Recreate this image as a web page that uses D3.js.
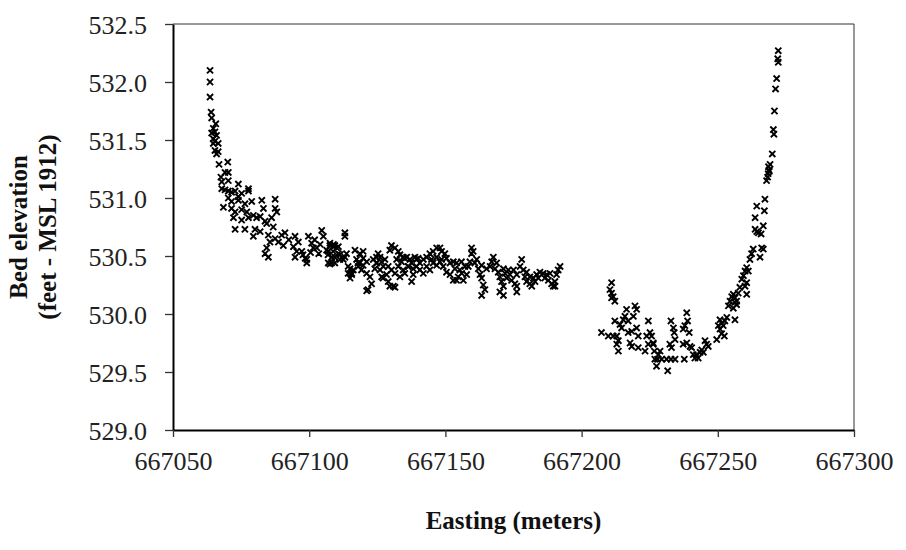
<!DOCTYPE html>
<html>
<head>
<meta charset="utf-8">
<script src="https://cdn.jsdelivr.net/npm/d3@7"></script>
<style>
  body { margin: 0; background: #fff; }
  .tick text { font-family: "Liberation Serif", serif; font-size: 26px; fill: #222; }
  .title { font-family: "Liberation Serif", serif; font-weight: bold; font-size: 25px; fill: #111; }
</style>
</head>
<body>
<div id="chart"></div>
<script>
// survey points [easting (m), bed elevation (ft)]
var westSlope = [
  [667063.6, 532.10], [667063.6, 532.00], [667063.6, 531.87], [667064.0, 531.74], [667064.2, 531.69],
  [667065.7, 531.64], [667064.8, 531.60], [667065.4, 531.57], [667064.2, 531.56], [667066.0, 531.54],
  [667064.8, 531.51], [667065.4, 531.49], [667066.6, 531.47], [667064.8, 531.47], [667065.4, 531.41],
  [667066.6, 531.40], [667066.0, 531.38], [667066.9, 531.29], [667070.1, 531.31], [667069.1, 531.22],
  [667070.3, 531.22], [667067.6, 531.18], [667070.3, 531.15], [667067.9, 531.14], [667067.9, 531.08],
  [667069.1, 531.07], [667070.3, 531.06], [667071.5, 531.05], [667074.0, 531.12], [667077.7, 531.08],
  [667077.7, 531.06], [667072.8, 531.06], [667075.2, 531.04], [667074.0, 531.01], [667070.3, 531.00],
  [667071.5, 530.97], [667074.0, 530.98], [667076.4, 530.95], [667078.9, 530.97], [667082.6, 530.98],
  [667087.5, 530.99], [667068.5, 530.92], [667071.5, 530.91], [667072.8, 530.88], [667075.2, 530.90],
  [667077.1, 530.88], [667079.5, 530.85], [667082.0, 530.84], [667083.2, 530.91], [667087.5, 530.91],
  [667088.1, 530.88], [667086.2, 530.83], [667086.8, 530.75], [667072.2, 530.83], [667075.2, 530.81],
  [667077.7, 530.83], [667080.7, 530.83], [667083.8, 530.80], [667084.4, 530.78], [667072.8, 530.73],
  [667076.4, 530.73], [667080.1, 530.73], [667079.5, 530.67], [667082.0, 530.71], [667085.0, 530.68],
  [667087.5, 530.65], [667085.6, 530.62], [667084.4, 530.57], [667083.8, 530.52], [667085.0, 530.49],
  [667089.9, 530.68], [667091.1, 530.70], [667088.7, 530.62], [667090.5, 530.59], [667094.8, 530.67],
  [667096.0, 530.62], [667094.2, 530.58], [667095.4, 530.54], [667094.8, 530.49], [667097.3, 530.54],
  [667099.7, 530.67], [667100.9, 530.61], [667098.5, 530.48], [667099.1, 530.44], [667101.5, 530.57],
  [667104.6, 530.72], [667105.2, 530.67], [667104.0, 530.60], [667107.0, 530.54], [667108.3, 530.49],
  [667107.0, 530.44], [667108.9, 530.60], [667097.7, 530.51], [667099.1, 530.47], [667102.8, 530.57],
  [667106.4, 530.55], [667106.9, 530.51], [667107.6, 530.43], [667092.5, 530.64], [667102.0, 530.64],
  [667103.5, 530.52], [667100.5, 530.53]
];

var channelBed = [
  [667109.4, 530.59], [667110.1, 530.57], [667108.8, 530.54], [667111.3, 530.51], [667109.4, 530.49],
  [667108.2, 530.44], [667109.4, 530.44], [667111.3, 530.47], [667113.1, 530.49], [667113.7, 530.52],
  [667113.1, 530.70], [667113.1, 530.67], [667116.8, 530.55], [667118.6, 530.52], [667119.8, 530.54],
  [667117.4, 530.47], [667118.6, 530.44], [667119.8, 530.42], [667121.1, 530.45], [667115.0, 530.39],
  [667114.3, 530.35], [667115.0, 530.31], [667121.1, 530.35], [667122.3, 530.32], [667122.9, 530.26],
  [667121.1, 530.20], [667125.3, 530.52], [667126.0, 530.49], [667124.7, 530.44], [667124.1, 530.39],
  [667126.0, 530.38], [667127.2, 530.41], [667126.6, 530.32], [667128.4, 530.34], [667129.0, 530.28],
  [667130.9, 530.24], [667129.6, 530.24], [667130.2, 530.59], [667131.5, 530.57], [667132.7, 530.54],
  [667133.3, 530.51], [667134.5, 530.49], [667132.1, 530.47], [667133.9, 530.45], [667132.7, 530.41],
  [667134.5, 530.38], [667135.1, 530.35], [667136.4, 530.41], [667138.2, 530.34], [667137.6, 530.28],
  [667133.3, 530.32], [667138.8, 530.49], [667139.4, 530.47], [667140.6, 530.44], [667140.6, 530.38],
  [667141.9, 530.35], [667139.4, 530.41], [667143.1, 530.41], [667144.3, 530.52], [667145.5, 530.54],
  [667144.9, 530.47], [667144.3, 530.38], [667146.8, 530.57], [667148.0, 530.57], [667148.6, 530.54],
  [667149.8, 530.52], [667150.4, 530.48], [667146.8, 530.49], [667148.0, 530.45], [667149.2, 530.41],
  [667150.4, 530.36], [667151.7, 530.34], [667152.9, 530.29], [667154.1, 530.29], [667154.1, 530.44],
  [667155.9, 530.45], [667157.2, 530.41], [667157.8, 530.34], [667156.6, 530.29], [667159.6, 530.57],
  [667160.2, 530.54], [667159.6, 530.52], [667159.0, 530.45], [667160.8, 530.44], [667162.1, 530.39],
  [667162.7, 530.34], [667163.3, 530.31], [667163.9, 530.25], [667164.5, 530.21], [667163.3, 530.16],
  [667167.6, 530.49], [667168.8, 530.44], [667166.4, 530.41], [667169.4, 530.36], [667170.0, 530.32],
  [667170.6, 530.28], [667171.3, 530.24], [667171.3, 530.16], [667170.0, 530.19], [667171.9, 530.35],
  [667173.1, 530.38], [667173.7, 530.34], [667174.3, 530.29], [667175.5, 530.26], [667176.2, 530.24],
  [667176.2, 530.19], [667177.4, 530.41], [667178.0, 530.47], [667178.6, 530.38], [667179.2, 530.32],
  [667179.8, 530.28], [667181.0, 530.26], [667181.7, 530.24], [667182.3, 530.31], [667183.5, 530.34],
  [667184.7, 530.36], [667185.9, 530.35], [667186.5, 530.31], [667187.8, 530.29], [667189.0, 530.26],
  [667189.6, 530.24], [667190.2, 530.28], [667191.4, 530.38], [667192.1, 530.41], [667190.8, 530.34],
  [667107.6, 530.61], [667110.7, 530.58], [667115.6, 530.35], [667117.9, 530.44], [667121.6, 530.21],
  [667124.8, 530.44], [667127.1, 530.31], [667131.5, 530.23], [667135.8, 530.49], [667136.3, 530.41],
  [667107.6, 530.59], [667108.8, 530.58], [667110.7, 530.52], [667112.5, 530.47], [667114.3, 530.41],
  [667116.2, 530.38], [667118.0, 530.41], [667119.2, 530.38], [667115.6, 530.34], [667119.8, 530.48],
  [667123.5, 530.47], [667124.7, 530.49], [667126.6, 530.45], [667127.8, 530.47], [667129.0, 530.41],
  [667130.2, 530.38], [667131.5, 530.35], [667129.6, 530.55], [667135.1, 530.48], [667137.0, 530.47],
  [667137.6, 530.44], [667138.2, 530.39], [667140.0, 530.48], [667141.9, 530.47], [667143.1, 530.49],
  [667145.5, 530.44], [667146.8, 530.42], [667148.6, 530.47], [667151.7, 530.44], [667152.9, 530.45],
  [667153.5, 530.39], [667155.3, 530.38], [667154.7, 530.32], [667156.0, 530.35], [667158.4, 530.41],
  [667161.5, 530.47], [667163.3, 530.42], [667165.1, 530.39], [667167.0, 530.45], [667168.2, 530.39],
  [667171.3, 530.39], [667172.5, 530.31], [667175.0, 530.38], [667176.2, 530.34], [667179.8, 530.36],
  [667181.0, 530.32], [667182.9, 530.28], [667184.1, 530.31], [667187.2, 530.34], [667188.4, 530.35],
  [667190.2, 530.24]
];

var eastSlope = [
  [667272.2, 532.27], [667272.0, 532.20], [667272.2, 532.17], [667271.6, 532.03], [667271.2, 531.94],
  [667270.8, 531.75], [667270.4, 531.59], [667270.6, 531.55], [667270.0, 531.38], [667269.2, 531.29],
  [667268.8, 531.24], [667268.5, 531.21], [667268.3, 531.18], [667267.9, 531.15], [667268.6, 531.27],
  [667268.9, 531.23], [667267.3, 530.99], [667264.3, 530.93], [667267.1, 530.89], [667263.7, 530.83],
  [667266.7, 530.76], [667263.7, 530.73], [667264.9, 530.70], [667265.9, 530.69], [667264.3, 530.71],
  [667266.1, 530.57], [667266.7, 530.56], [667263.0, 530.56], [667265.5, 530.49], [667262.4, 530.52],
  [667261.8, 530.47], [667260.6, 530.40], [667260.0, 530.37], [667261.2, 530.37], [667259.4, 530.33],
  [667258.8, 530.30], [667260.6, 530.27], [667260.0, 530.24], [667258.1, 530.23], [667260.6, 530.17],
  [667257.5, 530.18], [667255.7, 530.17], [667255.1, 530.15], [667256.3, 530.14], [667254.5, 530.11],
  [667256.3, 530.10], [667256.9, 530.08], [667253.9, 530.07], [667255.7, 530.05], [667256.9, 530.11],
  [667256.3, 529.95], [667253.3, 529.97], [667252.6, 529.94], [667250.8, 529.95], [667251.4, 529.92],
  [667250.2, 529.90], [667252.0, 529.90], [667250.8, 529.87], [667251.4, 529.83], [667252.4, 529.81],
  [667249.6, 529.78], [667246.5, 529.72], [667245.3, 529.77], [667245.9, 529.74], [667244.1, 529.69],
  [667243.5, 529.67], [667242.2, 529.65], [667241.6, 529.62], [667241.0, 529.65], [667240.4, 529.71],
  [667239.8, 529.72], [667242.8, 529.62], [667244.7, 529.67], [667238.6, 530.01], [667238.9, 529.94],
  [667237.9, 529.90], [667237.3, 529.87], [667239.5, 529.84], [667238.6, 529.75], [667237.3, 529.74],
  [667237.7, 529.61], [667232.8, 529.94], [667233.7, 529.88], [667234.0, 529.84], [667234.3, 529.78],
  [667232.4, 529.74], [667233.0, 529.71], [667234.3, 529.61], [667232.8, 529.61], [667231.2, 529.61],
  [667229.4, 529.61], [667227.9, 529.61], [667226.9, 529.61], [667228.2, 529.65], [667228.8, 529.68],
  [667226.7, 529.68], [667227.5, 529.55], [667231.6, 529.51], [667224.5, 529.94], [667225.1, 529.84],
  [667225.7, 529.81], [667226.3, 529.75], [667223.9, 529.81], [667224.5, 529.74], [667223.3, 529.68],
  [667226.3, 529.74], [667219.6, 530.07], [667220.2, 530.04], [667219.0, 529.98], [667216.5, 530.04],
  [667215.9, 529.98], [667215.3, 529.95], [667217.1, 529.94], [667212.2, 529.94], [667214.1, 529.91],
  [667214.7, 529.88], [667220.2, 529.88], [667220.8, 529.81], [667217.1, 529.84], [667218.4, 529.85],
  [667217.8, 529.75], [667218.4, 529.72], [667220.8, 529.71], [667212.9, 529.81], [667213.5, 529.77],
  [667212.9, 529.74], [667213.5, 529.68], [667207.3, 529.84], [667209.8, 529.81], [667211.6, 529.81],
  [667211.0, 530.27], [667210.4, 530.21], [667211.0, 530.18], [667211.6, 530.15], [667212.2, 530.11],
  [667211.0, 530.14]
];

var xTicks = [667050, 667100, 667150, 667200, 667250, 667300];
var yTicks = [529.0, 529.5, 530.0, 530.5, 531.0, 531.5, 532.0, 532.5];

var margin = { top: 24, right: 52, bottom: 120, left: 173 };
var width = 906 - margin.left - margin.right;
var height = 550 - margin.top - margin.bottom;

var svg = d3.select("#chart")
    .append("svg")
    .attr("width", 906)
    .attr("height", 550)
    .append("g")
    .attr("transform", "translate(" + margin.left + "," + margin.top + ")");

var x = d3.scaleLinear().domain([667050, 667300]).range([0, width]);
var y = d3.scaleLinear().domain([529.0, 532.5]).range([height, 0]);

// frame: thin top and right edges
svg.append("line").attr("x1", 0).attr("x2", width).attr("y1", 0).attr("y2", 0)
    .attr("stroke", "#333").attr("stroke-width", 1);
svg.append("line").attr("x1", width).attr("x2", width).attr("y1", 0).attr("y2", height)
    .attr("stroke", "#333").attr("stroke-width", 1);

// Y axis
var yAxis = svg.append("g")
    .call(d3.axisLeft(y).tickValues(yTicks).tickFormat(d3.format(".1f")).tickSize(8).tickSizeOuter(0).tickPadding(18));
yAxis.select(".domain").attr("stroke", "#000").attr("stroke-width", 2);
yAxis.selectAll(".tick line").attr("stroke", "#333").attr("stroke-width", 1.3);
yAxis.selectAll(".tick text").attr("dy", "0.36em");

// X axis
var xAxis = svg.append("g")
    .attr("transform", "translate(0," + height + ")")
    .call(d3.axisBottom(x).tickValues(xTicks).tickFormat(d3.format("d")).tickSize(7).tickSizeOuter(0).tickPadding(13));
xAxis.select(".domain").attr("stroke", "#000").attr("stroke-width", 2);
xAxis.selectAll(".tick line").attr("stroke", "#333").attr("stroke-width", 1.3);
xAxis.selectAll(".tick text").attr("dy", "0.75em");

// points
var mark = d3.symbol().type(d3.symbolTimes).size(26);
var all = westSlope.concat(channelBed, eastSlope);
svg.selectAll(".pt")
    .data(all)
    .enter().append("path")
    .attr("class", "pt")
    .attr("d", mark)
    .attr("transform", function (d) { return "translate(" + x(d[0]) + "," + y(d[1]) + ")"; })
    .attr("fill", "none")
    .attr("stroke", "#000")
    .attr("stroke-width", 1.9);

// axis titles
svg.append("text")
    .attr("class", "title")
    .attr("x", width / 2)
    .attr("y", height + 99)
    .attr("text-anchor", "middle")
    .text("Easting (meters)");

svg.append("text")
    .attr("class", "title")
    .attr("transform", "translate(" + (27 - margin.left) + "," + (height / 2) + ")rotate(-90)")
    .attr("text-anchor", "middle")
    .text("Bed elevation");
svg.append("text")
    .attr("class", "title")
    .attr("transform", "translate(" + (56 - margin.left) + "," + (height / 2) + ")rotate(-90)")
    .attr("text-anchor", "middle")
    .text("(feet - MSL 1912)");
</script>
</body>
</html>
